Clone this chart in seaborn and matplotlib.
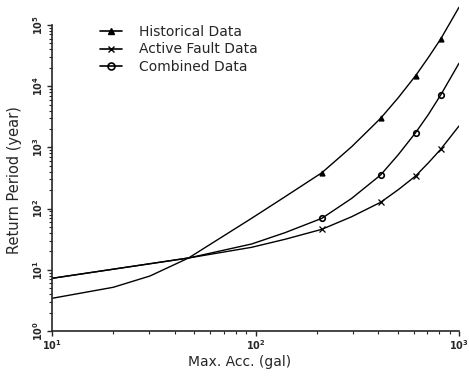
import numpy as np
import pandas as pd
import matplotlib
matplotlib.use("Agg")
import matplotlib.pyplot as plt
from matplotlib.lines import Line2D
from matplotlib.ticker import FixedLocator, LogFormatterMathtext
import seaborn as sns

# curve values (gal, year)
hist_acc = [10, 20, 30.3, 46.9, 95.7, 139.6, 212, 297, 412, 503, 612, 706, 813, 1000]
hist_period = [3.42, 5.18, 7.92, 15.6, 69.4, 156, 386, 1027, 2989, 6486,
               14845, 29220, 59040, 194600]

fault_acc = [10, 46.9, 95.7, 139.6, 212, 297, 412, 503, 612, 706, 813, 1000]
fault_period = [7.26, 15.6, 23.3, 31.5, 45.9, 73.7, 126.8, 203.6, 341, 556, 931, 2238]

comb_acc = [10, 46.9, 95.7, 139.6, 212, 297, 412, 503, 612, 706, 813, 1000]
comb_period = [7.26, 15.6, 26.4, 40.4, 69.4, 147, 354, 760, 1739, 3420, 7180, 23670]

# marked points
mark_acc = [212, 412, 612, 813]
hist_marks = [386, 2989, 14845, 59040]
fault_marks = [45.9, 126.8, 341, 931]
comb_marks = [69.4, 354, 1739, 7180]

labels = ["Historical Data", "Active Fault Data", "Combined Data"]

sns.set_style("ticks")
plt.rcParams["font.family"] = ["DejaVu Sans"]
plt.rcParams["mathtext.fontset"] = "dejavusans"

curves = pd.concat([
    pd.DataFrame({"acc": hist_acc, "period": hist_period, "src": labels[0]}),
    pd.DataFrame({"acc": fault_acc, "period": fault_period, "src": labels[1]}),
    pd.DataFrame({"acc": comb_acc, "period": comb_period, "src": labels[2]}),
], ignore_index=True)

fig = plt.figure(figsize=(4.69, 3.82), dpi=100)
ax = fig.add_axes([52 / 469, 1 - 331 / 382, (459 - 52) / 469, 330.5 / 382])

sns.lineplot(data=curves, x="acc", y="period", units="src", estimator=None,
             sort=False, color="black", lw=1.0, ax=ax, legend=False)

ax.plot(mark_acc, hist_marks, ls="none", marker="^", ms=3.5, color="black")
ax.plot(mark_acc, fault_marks, ls="none", marker="x", ms=4, mew=0.9, color="black")
ax.plot(mark_acc, comb_marks, ls="none", marker="o", ms=4, mew=1.2,
        mfc="none", mec="black")

ax.set_xscale("log")
ax.set_yscale("log")
ax.set_xlim(10, 1000)
ax.set_ylim(1, 10 ** 5.4)

ax.set_yticks([1, 10, 100, 1e3, 1e4, 1e5])
ax.set_xticks([10, 100, 1000])
ax.yaxis.set_major_formatter(LogFormatterMathtext())
ax.xaxis.set_major_formatter(LogFormatterMathtext())
ax.yaxis.set_minor_locator(FixedLocator([m * 10.0 ** k for k in range(5) for m in range(2, 10)]))
ax.xaxis.set_minor_locator(FixedLocator([m * 10.0 ** k for k in range(1, 3) for m in range(2, 10)]))

for s in ["top", "right"]:
    ax.spines[s].set_visible(False)
ax.spines["left"].set_bounds(1, 1e5)
ax.spines["left"].set_linewidth(1.2)
ax.spines["bottom"].set_linewidth(1.2)

ax.tick_params(which="major", direction="out", length=3.5, width=1, labelsize=7, pad=1.5)
ax.tick_params(which="minor", direction="out", length=2, width=0.8)
for t in ax.get_yticklabels():
    t.set_rotation(90)
    t.set_va("center")
    t.set_fontweight("bold")
for t in ax.get_xticklabels():
    t.set_fontweight("bold")

ax.set_xlabel("Max. Acc. (gal)", fontsize=10)
ax.set_ylabel("Return Period (year)", fontsize=10.5)
ax.xaxis.set_label_coords((240 - 52) / 407, (331 - 362) / 330.5)
ax.xaxis.label.set_va("center")
ax.yaxis.set_label_coords((14 - 52) / 407, (331 - 180) / 330.5)
ax.yaxis.label.set_va("center")

handles = [
    Line2D([], [], color="black", lw=1.2, marker="^", ms=4.5),
    Line2D([], [], color="black", lw=1.2, marker="x", ms=4.5, mew=1.0),
    Line2D([], [], color="black", lw=1.2, marker="o", ms=5, mfc="none", mew=1.2),
]
fig.legend(handles, labels, loc="upper left", bbox_to_anchor=(100 / 469, 1 - 25 / 382),
           frameon=False, fontsize=10, handlelength=1.6, handletextpad=1.2,
           labelspacing=0.25, borderpad=0, borderaxespad=0)

fig.savefig("out.png", dpi=100)
